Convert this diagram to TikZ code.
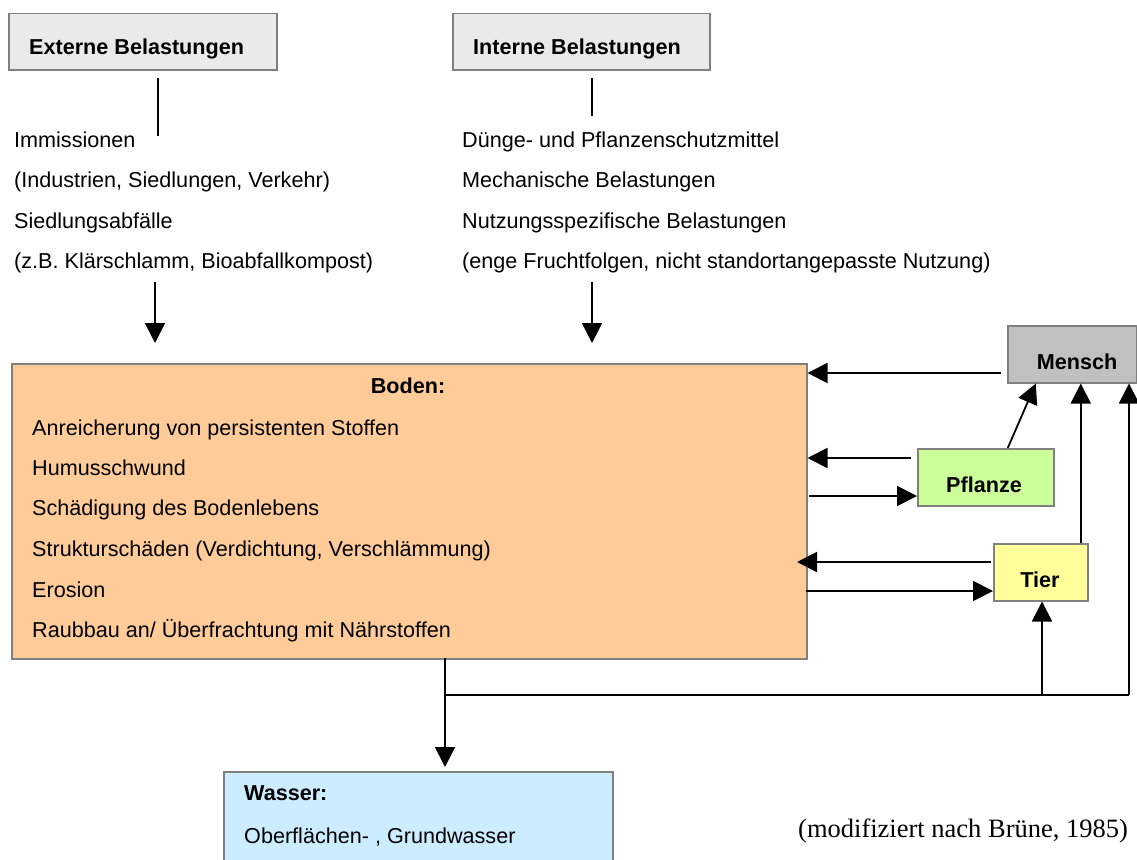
\documentclass[tikz,border=0pt]{standalone}
\usepackage{fontspec}
\setmainfont{Liberation Sans}
\newfontfamily\srcfont{Liberation Serif}
\usetikzlibrary{arrows.meta}
\definecolor{boxgray}{HTML}{EAEAEA}
\definecolor{bordergray}{HTML}{808080}
\definecolor{bodenfill}{HTML}{FFCC99}
\definecolor{menschfill}{HTML}{C0C0C0}
\definecolor{pflanzefill}{HTML}{CCFF99}
\definecolor{tierfill}{HTML}{FFFF99}
\definecolor{wasserfill}{HTML}{CCECFF}
\begin{document}
\begin{tikzpicture}[x=1pt,y=-1pt,
  box/.style={draw=bordergray, line width=1.5pt, inner sep=0pt, anchor=north west},
  txt/.style={anchor=base west, inner sep=0pt, font=\fontsize{21.6}{25}\selectfont},
  btxt/.style={txt, font=\fontsize{21.6}{25}\selectfont\bfseries},
  ctxt/.style={btxt, anchor=base},
  srctxt/.style={anchor=base west, inner sep=0pt, font=\fontsize{26.5}{30}\srcfont},
  ln/.style={line width=1.8pt},
  arr/.style={ln, -{Triangle[length=20pt,width=20pt]}}]
\useasboundingbox (0,0) rectangle (1137,859);

% boxes
\node[box, fill=boxgray, minimum width=268pt, minimum height=56pt] (ext) at (8,13) {};
\node[box, fill=boxgray, minimum width=257pt, minimum height=56pt] (int) at (452,13) {};
\node[box, fill=bodenfill, minimum width=795pt, minimum height=295pt] (boden) at (11,363) {};
\node[box, fill=menschfill, minimum width=129pt, minimum height=57pt] (mensch) at (1007,325) {};
\node[box, fill=pflanzefill, minimum width=136pt, minimum height=57pt] (pflanze) at (917,448) {};
\node[box, fill=tierfill, minimum width=94pt, minimum height=57pt] (tier) at (993,543) {};
\node[box, fill=wasserfill, minimum width=389pt, minimum height=120pt] (wasser) at (223,771) {};

% box titles
\node[btxt] (extT) at (29,55) {Externe Belastungen};
\node[btxt] (intT) at (473,55) {Interne Belastungen};
\node[ctxt] (bodenT) at (408,393) {Boden:};
\node[ctxt] (menschT) at (1077,369) {Mensch};
\node[ctxt] (pflanzeT) at (984,492) {Pflanze};
\node[ctxt] (tierT) at (1040,587) {Tier};
\node[btxt] (wasserT) at (244,800) {Wasser:};
\node[txt] (wasser1) at (244,843) {Oberflächen- , Grundwasser};

% left list
\node[txt] (e1) at (14,147) {Immissionen};
\node[txt] (e2) at (14,187.5) {(Industrien, Siedlungen, Verkehr)};
\node[txt] (e3) at (14,228) {Siedlungsabfälle};
\node[txt] (e4) at (14,268) {(z.B. Klärschlamm, Bioabfallkompost)};

% right list
\node[txt] (i1) at (462,147) {Dünge- und Pflanzenschutzmittel};
\node[txt] (i2) at (462,187.5) {Mechanische Belastungen};
\node[txt] (i3) at (462,228) {Nutzungsspezifische Belastungen};
\node[txt] (i4) at (462,268) {(enge Fruchtfolgen, nicht standortangepasste Nutzung)};

% boden list
\node[txt] (b1) at (32,435) {Anreicherung von persistenten Stoffen};
\node[txt] (b2) at (32,475) {Humusschwund};
\node[txt] (b3) at (32,515) {Schädigung des Bodenlebens};
\node[txt] (b4) at (32,556) {Strukturschäden (Verdichtung, Verschlämmung)};
\node[txt] (b5) at (32,597) {Erosion};
\node[txt] (b6) at (32,637) {Raubbau an/ Überfrachtung mit Nährstoffen};

% source
\node[srctxt] (src) at (798,837) {(modifiziert nach Brüne, 1985)};

% coordinates for connectors
\coordinate (eA) at (158,78);
\coordinate (eB) at (158,136);
\coordinate (eC) at (155,282);
\coordinate (eD) at (155,343);
\coordinate (iA) at (592,78);
\coordinate (iB) at (592,116);
\coordinate (iC) at (592,282);
\coordinate (iD) at (592,343);
\coordinate (mB) at (1001,373);
\coordinate (pB) at (911,458);
\coordinate (bP) at (809,496);
\coordinate (tB) at (991,562);
\coordinate (tBtip) at (797,562);
\coordinate (bT) at (806,591);
\coordinate (bot) at (445,658);
\coordinate (junc) at (445,695);
\coordinate (wtip) at (445,767);
\coordinate (jT) at (1042,695);
\coordinate (jM) at (1129,695);

% connectors
\draw[ln] (eA) -- (eB);
\draw[arr] (eC) -- (eD);
\draw[ln] (iA) -- (iB);
\draw[arr] (iC) -- (iD);
\draw[arr] (mB) -- (boden.east |- mB);
\draw[arr] (pB) -- (boden.east |- pB);
\draw[arr] (bP) -- (pflanze.west |- bP);
\draw[arr] ([xshift=22pt]pflanze.north) -- ([xshift=-36.5pt]mensch.south);
\draw[arr] (tB) -- (tBtip);
\draw[arr] (bT) -- (tier.west |- bT);
\draw[arr] ([xshift=40pt]tier.north) -- ([xshift=8.5pt]mensch.south);
\draw[arr] (bot) -- (wtip);
\draw[ln] (junc) -- (jM);
\draw[arr] (jT) -- (tier.south -| jT);
\draw[arr] (jM) -- (mensch.south -| jM);
\end{tikzpicture}
\end{document}
